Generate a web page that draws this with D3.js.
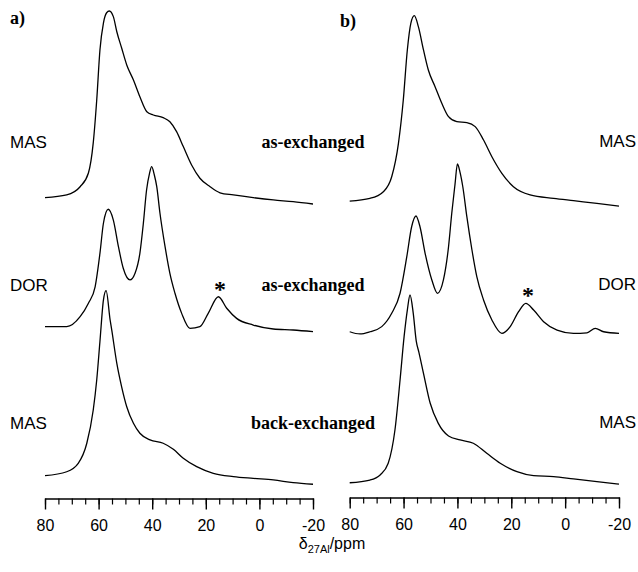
<!DOCTYPE html>
<html><head><meta charset="utf-8">
<script src="https://cdn.jsdelivr.net/npm/d3@7"></script>
<style>
html,body{margin:0;padding:0;background:#fff;}
svg{display:block;}
.sans{font-family:Arial,"Liberation Sans",sans-serif;}
.serif{font-family:"Times New Roman","Liberation Serif",serif;font-weight:bold;}
</style></head>
<body>
<svg id="chart" width="638" height="572"></svg>
<script>
// ---- data: [ppm, relative intensity] ----
const axisTicks = [80, 60, 40, 20, 0, -20];
const minorTicks = d3.range(80, -20.1, -5);

const aMasAs = [[80,3.8],[71.9,5.2],[66.9,9.4],[63.8,16.5],[62,32],[60.7,54.1],[59.5,79.9],[58.2,93.8],[57,99.1],[56,100],[54.5,97.1],[53.2,89.3],[51.4,80.9],[49.5,72.2],[47,64.4],[44.6,55.8],[42,48.1],[39.6,46.4],[35.9,45],[33.4,42.9],[30.9,37.8],[28.4,30.1],[25.3,20.6],[22.2,13.8],[18.4,9.4],[14.7,6.3],[9.7,5.2],[2.3,3.8],[-5.2,2.6],[-12.6,1.7],[-20,0.5]];
const aDorAs = [[80,3.8],[71.9,3.8],[66.9,9.8],[63.8,17.9],[61.3,27.8],[59.5,47.9],[58.2,66],[56.4,74.4],[54.5,67.9],[52.6,51.9],[50.8,38.9],[48.3,31.9],[46.4,35.9],[44.6,47.9],[43.3,66],[42.1,86],[41,96],[40.2,100],[39.2,95],[38.3,88],[37.1,72],[35.2,51.9],[33.4,35.9],[31.5,23.9],[29,11.8],[25.9,2.8],[22.2,3.8],[19.1,11.8],[15.3,21.8],[12.2,14.9],[8.5,8.8],[2.3,4.8],[-5.2,2.4],[-12.6,1.8],[-20,0.8]];
const aMasBack = [[80,5.3],[71.9,7.3],[67.6,11.6],[64.4,21.9],[62,38.9],[60.7,54.3],[59.5,74],[58.2,95.2],[57.2,100],[55.7,85],[55.1,79.9],[53.2,62.8],[51.4,50.8],[49.5,40.6],[47,32.1],[44.6,27],[40.8,23.6],[35.9,21.9],[32.1,18.8],[28.4,14.2],[23.4,9.9],[17.2,6.5],[9.7,4.8],[2.3,3.9],[-5.2,3.1],[-12.6,1.7],[-20,0.9]];

const bMasAs = [[80,3.1],[72.5,4.5],[67.5,8],[64.4,15.8],[61.9,33.3],[60.1,55.9],[58.6,82.1],[57.3,96],[56,100],[54.5,94.3],[52.6,82.1],[50.8,71.6],[48.3,62.9],[45.8,54.2],[43.3,47.2],[40.2,44.6],[36.5,44.1],[33.4,42],[30.3,35],[27.2,26.3],[23.5,17.6],[19.2,10.6],[13,6.3],[4.3,4.5],[-3.1,3.3],[-11.8,1.9],[-20,0.5]];
const bDorAs = [[80,1.9],[76.2,0.6],[72.5,1.9],[68.1,4.9],[64.4,12.7],[61.3,24.4],[58.8,45.8],[57,63.3],[55.4,69.6],[53.9,63.3],[52,47.8],[49.5,32.2],[47.4,24.4],[45.2,32.2],[43.3,51.6],[42.1,71.2],[40.9,88],[40,100],[39,95],[38,86.7],[36.5,69.2],[34.6,49.7],[32.8,34.1],[30.3,20.5],[27.2,8.8],[23.5,1],[20.4,4.9],[17.3,13.6],[14.6,18.5],[11.7,14.6],[8,7.8],[3,2.9],[-3.1,1],[-8.1,1.3],[-11.2,3.9],[-14.3,1.9],[-20,1]];
const bMasBack = [[80,1.7],[72.5,3.1],[68.7,5.8],[65.7,11.9],[63.2,29.3],[61.3,55.5],[59.8,78.2],[58.6,92.1],[57.6,100],[56.4,90.4],[55.3,76],[54.3,70],[52.6,59],[50.1,43.3],[47.1,32.8],[43.3,26.2],[39,24.1],[34.1,22.4],[29.1,17.1],[24.1,11.9],[17.9,7.5],[11.7,5.4],[4.3,4.9],[-3.1,3.7],[-11.8,2.3],[-20,1]];

const panelLabels = ["a)", "b)"];
const techLabels = ["MAS", "DOR", "MAS"];
const sampleLabels = ["as-exchanged", "as-exchanged", "back-exchanged"];

// ---- layout ----
const svg = d3.select("#chart");
const panels = [
  {label: panelLabels[0], lx: 10, ly: 24, range: [45, 313], axisY: 498.5,
   traces: [{d: aMasAs, y0: 205, h: 194}, {d: aDorAs, y0: 333, h: 166.3}, {d: aMasBack, y0: 486, h: 195.3}],
   star: {x: 220, y: 297}},
  {label: panelLabels[1], lx: 340, ly: 27, range: [349.7, 619], axisY: 497.5,
   traces: [{d: bMasAs, y0: 207, h: 191.3}, {d: bDorAs, y0: 335, h: 171}, {d: bMasBack, y0: 486, h: 191}],
   star: {x: 528, y: 303}}
];

panels.forEach(p => {
  const x = d3.scaleLinear().domain([80, -20]).range(p.range);
  p.traces.forEach(t => {
    const y = d3.scaleLinear().domain([0, 100]).range([t.y0, t.y0 - t.h]);
    const line = d3.line().x(d => x(d[0])).y(d => y(d[1])).curve(d3.curveMonotoneX);
    svg.append("path").datum(t.d).attr("d", line)
      .attr("fill", "none").attr("stroke", "#000").attr("stroke-width", 1.3)
      .attr("stroke-linejoin", "round");
  });
  // minor ticks
  const gMinor = svg.append("g").attr("transform", `translate(0,${p.axisY})`)
    .call(d3.axisBottom(x).tickValues(minorTicks).tickSize(6).tickSizeOuter(0).tickFormat(""));
  gMinor.select(".domain").remove();
  gMinor.selectAll("line").attr("stroke", "#000").attr("stroke-width", 1.2);
  // major ticks
  const g = svg.append("g").attr("transform", `translate(0,${p.axisY})`)
    .call(d3.axisBottom(x).tickValues(axisTicks).tickSize(11).tickSizeOuter(0).tickPadding(10)
      .tickFormat(d => d));
  g.select(".domain").attr("stroke", "#000").attr("stroke-width", 1.6);
  g.selectAll("line").attr("stroke", "#000").attr("stroke-width", 1.4);
  g.selectAll("text").attr("class", "sans").attr("font-size", 16).attr("fill", "#000")
    .style("font-family", "Arial, 'Liberation Sans', sans-serif");

  svg.append("text").attr("class", "serif").attr("x", p.lx).attr("y", p.ly)
    .attr("font-size", 18).text(p.label);
  svg.append("text").attr("class", "serif").attr("x", p.star.x).attr("y", p.star.y)
    .attr("text-anchor", "middle").attr("font-size", 24).text("*");
});

const rowBase = [148, 291, 429];
techLabels.forEach((t, i) => {
  svg.append("text").attr("class", "sans").attr("x", 10).attr("y", rowBase[i])
    .attr("font-size", 17).text(t);
  svg.append("text").attr("class", "sans").attr("x", 636).attr("y", rowBase[i] - 1)
    .attr("text-anchor", "end").attr("font-size", 17).text(t);
});
sampleLabels.forEach((t, i) => {
  svg.append("text").attr("class", "serif").attr("x", 313).attr("y", rowBase[i])
    .attr("text-anchor", "middle").attr("font-size", 18).text(t);
});

// axis title
const title = svg.append("text").attr("class", "sans").attr("x", 332).attr("y", 549)
  .attr("text-anchor", "middle").attr("font-size", 16);
title.append("tspan").text("δ");
title.append("tspan").attr("font-size", 11).attr("dy", 4).text("27Al");
title.append("tspan").attr("dy", -4).text("/ppm");
</script>
</body></html>
